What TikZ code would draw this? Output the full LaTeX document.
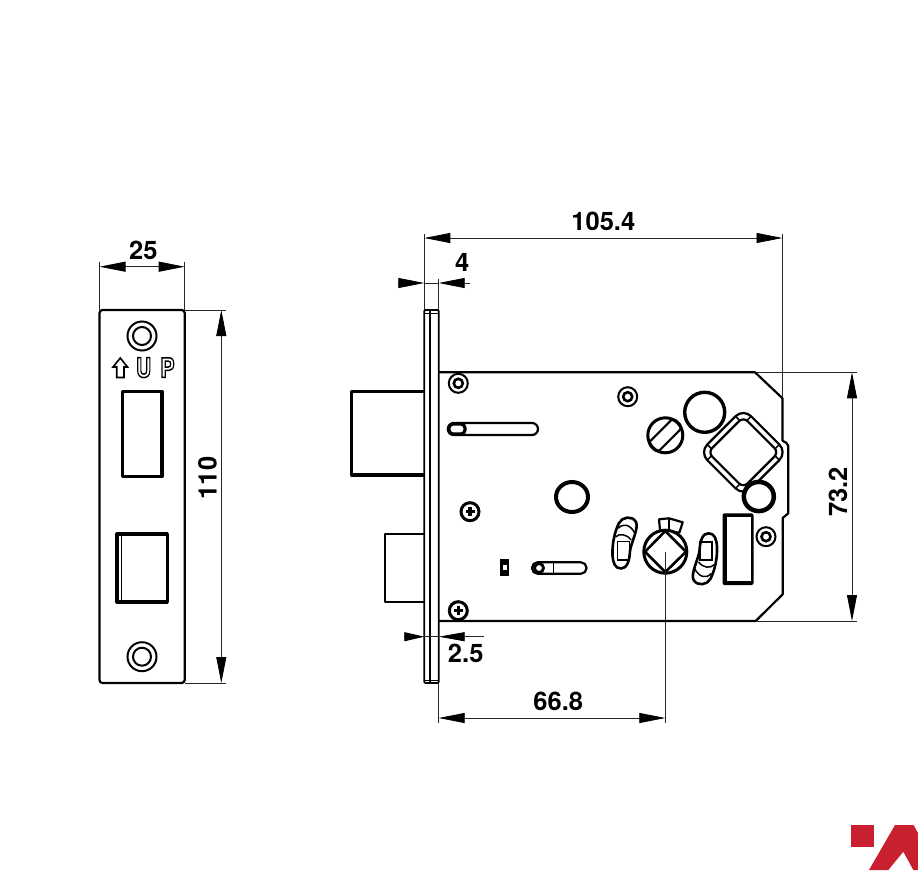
\documentclass[tikz,border=0pt]{standalone}
\usepackage{fontspec}
\setmainfont{TeX Gyre Heros}
\usetikzlibrary{arrows.meta}
\definecolor{logored}{HTML}{C8202F}
\newcommand{\outlinetext}[1]{\special{pdf:code 1 Tr 1.5 w}#1\special{pdf:code 0 Tr}}
\tikzset{
  part/.style={draw,line width=2.2pt,line join=round},
  heavy/.style={draw,line width=3.2pt,line join=round},
  thin part/.style={draw,line width=1.5pt},
  ext/.style={draw,line width=0.8pt,black!85},
  dim/.style={ext,{Triangle[length=26pt,width=10pt,black]}-{Triangle[length=26pt,width=10pt,black]}},
  head/.style={ext,-{Triangle[length=26pt,width=10pt,black]}},
  dim label/.style={font=\bfseries\fontsize{25.5}{25.5}\selectfont,inner sep=0pt},
  letter/.style={font=\bfseries\fontsize{27}{27}\selectfont,inner sep=0pt,xscale=0.78},
  screw/.pic={
    \draw[line width=2pt] (0,0) circle[radius=9.5];
    \draw[line width=2.6pt] (0,0) circle[radius=4.5];
  },
  cross screw/.pic={
    \draw[line width=3pt] (0,0) circle[radius=9];
    \fill (-4.5,-1.7) rectangle (4.5,1.7);
    \fill (-1.7,-4.5) rectangle (1.7,4.5);
  },
  cam/.pic={
    \draw[part,line width=2.6pt,fill=white] (-11.5,12) .. controls (-12,0) and (-9,-12) .. (-5,-20)
      .. controls (-2,-26) and (8,-28) .. (12,-21)
      .. controls (15,-15) and (7,0) .. (6,8)
      .. controls (5.5,18) and (3,25.5) .. (-3,25.5)
      .. controls (-9,25.5) and (-11,20) .. (-11.5,12) -- cycle;
    \draw[thin part] (-6.7,-1.3) rectangle (5.3,17);
    \draw[thin part] (-8.5,-6) .. controls (-5,-10) and (3,-9) .. (7,-3);
    \draw[thin part] (-5.7,-14.7) .. controls (-1,-20) and (6,-19) .. (11,-9.7);
  },
}
\begin{document}
\begin{tikzpicture}[x=1pt,y=-1pt]
\useasboundingbox (0,0) rectangle (918,870);
%faceplate
  \coordinate (f1) at (99.5,310);
  \coordinate (f2) at (184.7,310);
  \coordinate (f3) at (184.7,683);
  \coordinate (f4) at (99.5,683);
  \draw[part,rounded corners=3pt] (f1) -- (f2) -- (f3) -- (f4) -- cycle;
  \draw[line width=2pt] (142,336) circle[radius=14.5];
  \draw[line width=2pt] (142,336) circle[radius=9];
  \draw[line width=2pt] (142,656.7) circle[radius=14.5];
  \draw[line width=2pt] (142,656.7) circle[radius=9];
  \draw[heavy] (122.3,391.5) rectangle (162,476.5);
  \draw[heavy] (117,534) rectangle (167.3,602);
  \draw[thin part] (121.7,534) -- (121.7,602);
%up mark
  \draw[line width=1.6pt,line join=miter] (120.3,358) -- (127.5,367) -- (124,367) -- (124,377.5)
    -- (116.7,377.5) -- (116.7,367) -- (113,367) -- cycle;
  \node[letter] (upu) at (143.7,367.6) {\outlinetext{U}};
  \node[letter] (upp) at (167.5,367.6) {\outlinetext{P}};
%dim 25
  \coordinate (d25a) at (99.5,266.7);
  \coordinate (d25b) at (184.7,266.7);
  \path[dim] (d25a) -- (d25b);
  \draw[ext] (99.5,262) -- (f1);
  \draw[ext] (184.7,262) -- (f2);
  \node[dim label] (l25) at (143.3,250.5) {25};
%dim 110
  \coordinate (d110a) at (221.3,310);
  \coordinate (d110b) at (221.3,683);
  \path[dim] (d110a) -- (d110b);
  \draw[ext] (f2) -- (226,310);
  \draw[ext] (f3) -- (226,683);
  \node[dim label,rotate=90] (l110) at (207.5,478) {110};
%strike plate
  \coordinate (p1) at (424.3,310);
  \coordinate (p2) at (438.7,310);
  \coordinate (p3) at (438.7,683);
  \coordinate (p4) at (424.3,683);
  \draw[line width=1.8pt,rounded corners=1pt] (p1) -- (p2) -- (p3) -- (p4) -- cycle;
  \draw[line width=1.8pt] (430,310) -- (430,683);
  \draw[line width=0.8pt] (424.3,313.5) -- (438.7,313.5);
  \draw[line width=0.8pt] (424.3,680) -- (438.7,680);
%bolts
  \draw[heavy] (424.3,391.7) -- (351.7,391.7) -- (351.7,475) -- (424.3,475);
  \draw[part] (424.3,534) -- (385,534) -- (385,601.7) -- (424.3,601.7);
%case
  \coordinate (c1) at (755,372.3);
  \coordinate (c2) at (782.5,398.3);
  \coordinate (c3) at (755.7,621);
  \draw[part] (p2 |- c1) -- (c1) -- (c2) -- (782.5,440.7) -- (786.5,443) -- (788.3,446)
    -- (788.3,513.3) -- (782.7,518) -- (782.7,594.3) -- (c3) -- (p2 |- c3);
%screws
  \pic at (458.3,383.3) {screw};
  \pic at (627.7,396.7) {screw};
  \pic at (766,536.7) {screw};
  \pic at (470,511.7) {cross screw};
  \pic at (458.3,610.7) {cross screw};
%slots
  \draw[part,rounded corners=6pt] (447.8,423) rectangle (538,435);
  \draw[line width=3.2pt,rounded corners=4pt] (449,424) rectangle (465,434);
  \fill (500,559.3) rectangle (509.3,576);
  \fill[white] (502.5,564.7) rectangle (507,570);
  \draw[part,rounded corners=5.5pt] (532,562.3) rectangle (586.5,573.7);
  \draw[line width=2.8pt] (539,568) circle[radius=4.5];
  \draw[thin part] (553.3,562.3) -- (553.3,573.7);
%follower
  \draw[line width=3pt] (665.3,435.3) circle[radius=17.5];
  \begin{scope}[shift={(665.3,435.3)},rotate=45]
    \draw[part,rounded corners=3.5pt] (-18,-6.5) rectangle (18,6.5);
  \end{scope}
  \draw[line width=3.4pt] (704.7,412.3) circle[radius=20];
%square hub
  \begin{scope}[shift={(743.3,452.3)},rotate=45]
    \draw[part,rounded corners=11pt,fill=white] (-31,-31) rectangle (31,31);
    \draw[part,rounded corners=6pt] (-25,-25) rectangle (25,25);
    \foreach \sx/\sy in {1/1,1/-1,-1/1,-1/-1} {
      \draw[thin part] (\sx*20,\sy*31) -- (\sx*20,\sy*25);
      \draw[thin part] (\sx*31,\sy*20) -- (\sx*25,\sy*20);
    }
  \end{scope}
  \draw[line width=4.5pt,fill=white] (758.8,496.5) ellipse (15 and 14.6);
  \draw[line width=4pt] (572,497) ellipse (16 and 15);
%spindle
  \draw[part,fill=white] (659,519.3) -- (669,518.3) -- (682.7,522.3) -- (679.3,532.7) -- (660,530) -- cycle;
  \draw[thin part] (669,518.3) -- (669,530);
  \coordinate (hub) at (665.3,551.7);
  \draw[line width=3pt,fill=white] (hub) circle[radius=21.5];
  \draw[line width=2.6pt,fill=white] (665.3,531) -- (686,551.7) -- (665.3,572) -- (645,551.7) -- cycle;
  \pic at (624,543) {cam};
  \pic[rotate=180] at (705.5,558.8) {cam};
%handing block
  \fill[rounded corners=2pt] (722.5,513.3) rectangle (753.5,585);
  \fill[white] (727,517) rectangle (750.5,580.5);
%dim 105.4
  \coordinate (d105a) at (424.3,238);
  \coordinate (d105b) at (782.5,238);
  \path[dim] (d105a) -- (d105b);
  \draw[ext] (424.3,233.5) -- (p1);
  \draw[ext] (782.5,233.5) -- (c2);
  \node[dim label] (l105) at (603.3,221.5) {105.4};
%dim 4
  \coordinate (d4a) at (398,283);
  \coordinate (d4b) at (424.3,283);
  \coordinate (d4c) at (470,283);
  \coordinate (d4d) at (438.7,283);
  \path[head] (d4a) -- (d4b);
  \path[head] (d4c) -- (d4d);
  \draw[ext] (d4b) -- (d4d);
  \draw[ext] (438.7,278.5) -- (p2);
  \node[dim label] (l4) at (462.3,262.5) {4};
%dim 73.2
  \coordinate (d73a) at (852,372.3);
  \coordinate (d73b) at (852,621);
  \path[dim] (d73a) -- (d73b);
  \draw[ext] (c1) -- (857,372.3);
  \draw[ext] (c3) -- (857,621);
  \node[dim label,rotate=90] (l73) at (838,492) {73.2};
%dim 2.5
  \coordinate (d25c) at (404,636.7);
  \coordinate (d25d) at (424.3,636.7);
  \coordinate (d25e) at (484,636.7);
  \coordinate (d25f) at (438.7,636.7);
  \path[ext,-{Triangle[length=20pt,width=9pt,black]}] (d25c) -- (d25d);
  \path[ext,-{Triangle[length=26pt,width=9pt,black]}] (d25e) -- (d25f);
  \draw[ext] (d25d) -- (d25f);
  \node[dim label] (l2) at (465.7,653) {2.5};
%dim 66.8
  \coordinate (d66a) at (438.7,718);
  \coordinate (d66b) at (665.3,718);
  \path[dim] (d66a) -- (d66b);
  \draw[ext] (p3) -- (438.7,722.5);
  \draw[ext] (hub) -- (665.3,722.5);
  \node[dim label] (l66) at (558.3,701) {66.8};
%logo
  \fill[logored] (851,825) rectangle (874.3,846.7);
  \fill[logored] (869,870) -- (895,825) -- (913.5,825) -- (918,833) -- (918,870) -- (913.3,870)
    -- (903.3,851.7) -- (888.3,870) -- cycle;
\end{tikzpicture}
\end{document}
